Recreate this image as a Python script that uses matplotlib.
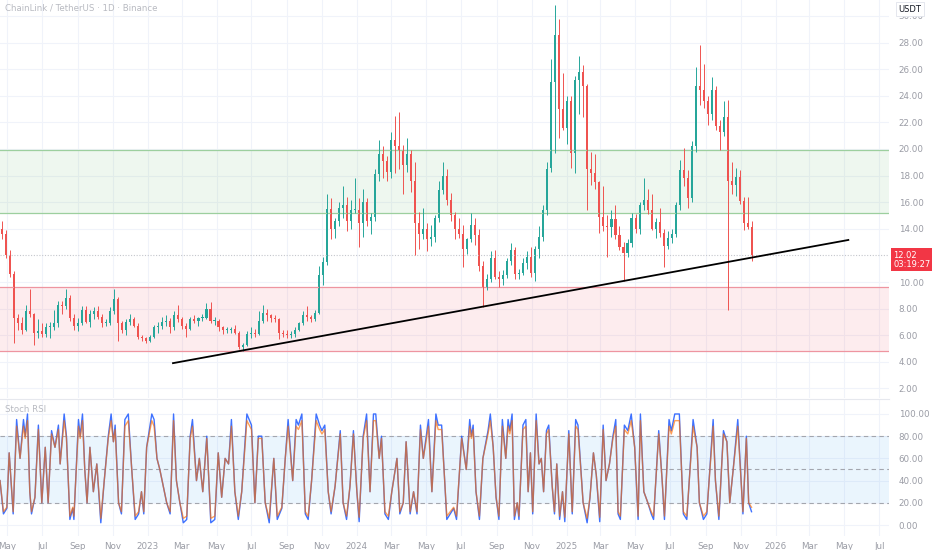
import matplotlib
matplotlib.use('Agg')
import matplotlib.pyplot as plt
import matplotlib.dates as mdates
import pandas as pd

# weekly candles (LINK/USDT), first week starts 2022-04-18
opens = [14.0,13.6,12.0,10.6,7.3,6.9,6.4,7.8,7.6,6.2,
         6.3,6.1,6.6,6.6,6.9,8.3,8.2,8.8,7.3,6.7,
         6.9,7.9,7.0,7.6,7.8,7.4,6.9,6.9,7.8,8.7,
         6.9,6.4,7.0,7.2,6.7,5.9,5.8,5.6,5.9,6.6,
         6.7,7.0,7.1,6.6,7.5,7.2,6.7,6.5,7.2,7.1,
         7.3,7.3,8.0,7.1,7.1,6.6,6.4,6.4,6.5,6.2,
         5.1,5.3,6.1,6.2,6.1,7.1,7.7,7.5,7.3,7.2,
         6.2,6.1,6.0,6.1,6.4,6.9,7.5,7.4,7.2,7.7,
         10.5,11.5,15.5,14.0,14.6,15.6,15.8,14.6,15.4,15.4,
         14.4,16.0,14.6,14.9,18.1,19.6,19.1,18.3,20.7,20.2,
         19.9,18.8,19.6,17.6,14.4,13.6,14.0,13.2,13.4,14.8,
         16.9,18.0,16.2,15.0,14.0,13.6,12.5,13.2,14.3,13.5,
         11.2,9.6,10.2,11.8,10.4,10.2,10.5,11.6,12.4,10.6,
         10.7,11.4,11.9,10.7,12.5,13.4,15.4,18.6,25.0,28.6,
         23.0,21.6,23.6,19.7,25.2,25.8,24.7,18.5,18.2,17.5,
         14.9,14.2,14.1,14.7,13.5,12.6,12.2,12.9,14.8,14.0,
         15.8,16.2,15.4,14.0,14.5,13.7,12.7,13.3,13.6,15.8,
         18.4,17.8,16.3,20.2,24.7,24.4,23.6,22.6,24.4,21.7,
         21.3,22.4,17.6,17.3,17.9,16.1,14.4,14.1]
highs = [14.6,13.9,12.4,10.8,7.6,7.4,8.3,9.5,7.7,7.2,
         6.9,6.9,7.0,7.9,8.6,8.6,9.5,9.0,7.6,7.3,
         8.2,8.2,7.9,8.1,8.2,7.6,7.2,8.1,9.5,8.9,
         7.1,7.2,7.6,7.4,6.9,6.0,5.9,6.0,6.8,7.0,
         7.4,7.5,7.3,7.8,8.3,7.4,6.9,7.4,7.5,7.4,
         7.6,8.4,8.5,7.4,7.2,6.7,6.6,6.6,6.8,6.3,
         5.4,6.3,6.6,6.5,7.8,8.3,8.0,7.6,7.5,7.3,
         6.4,6.4,6.3,6.6,7.0,7.8,8.2,7.5,7.9,11.2,
         11.9,16.6,16.3,14.8,16.0,17.2,16.4,16.2,17.8,16.3,
         17.0,16.3,15.2,18.5,20.7,20.2,19.5,21.3,22.5,22.8,
         20.3,20.8,19.9,19.0,15.3,15.6,14.4,14.3,15.0,17.6,
         19.0,18.5,16.7,15.3,14.8,14.3,13.3,15.2,14.8,14.0,
         11.6,10.6,12.3,12.4,10.8,10.9,11.8,12.9,12.6,11.0,
         11.8,12.3,12.6,12.7,14.2,15.8,19.0,26.8,30.8,29.8,
         25.7,24.0,24.0,25.5,27.0,26.3,24.9,19.8,19.6,17.6,
         17.2,15.0,15.4,15.8,14.2,13.0,13.2,15.2,15.1,16.0,
         17.8,17.0,16.6,14.8,15.6,14.0,13.8,14.0,16.0,19.2,
         20.1,18.4,20.6,26.2,27.8,26.4,24.0,25.4,24.7,22.2,
         23.6,23.7,19.0,18.6,18.4,16.4,16.4,14.6]
lows = [13.2,11.8,10.4,5.4,6.4,6.1,6.3,7.4,5.3,5.8,
        5.9,5.9,5.8,6.4,6.6,7.6,8.0,7.1,6.4,6.3,
        6.8,6.9,6.6,7.2,7.2,6.6,6.7,6.8,7.6,5.6,
        6.2,6.0,6.8,6.6,5.7,5.6,5.4,5.5,5.8,6.2,
        6.5,6.7,6.2,6.4,7.0,6.5,5.9,6.4,6.9,6.7,
        7.1,7.2,6.9,6.8,6.3,6.1,6.2,6.2,6.1,5.0,
        4.8,5.2,5.8,5.9,6.0,6.9,7.1,7.0,7.0,5.7,
        5.9,5.8,5.8,5.9,6.3,6.8,7.1,7.0,7.1,7.6,
        9.8,11.3,13.2,13.3,14.2,14.8,13.8,14.0,15.2,12.6,
        13.4,14.2,13.6,14.6,17.6,17.8,17.6,17.8,18.2,18.5,
        16.6,18.3,16.8,12.0,12.5,13.2,12.3,12.7,13.0,14.5,
        16.6,15.8,14.6,13.2,13.3,11.1,12.1,13.0,12.8,10.8,
        8.1,9.4,10.0,10.2,9.6,9.8,10.3,11.3,10.2,10.2,
        10.5,11.0,10.4,10.1,11.8,13.1,15.0,18.3,19.7,20.8,
        21.4,20.4,18.6,18.2,22.6,22.4,15.4,17.3,17.0,13.7,
        13.8,11.9,13.4,13.2,12.4,10.1,11.9,12.6,13.7,13.6,
        15.4,15.1,13.9,13.3,13.4,11.1,12.5,12.9,13.4,15.4,
        17.2,15.6,16.0,19.8,23.3,23.1,21.8,22.2,21.4,19.9,
        21.0,7.9,16.6,16.5,15.9,13.9,14.0,11.6]
closes = [13.6,12.0,10.6,7.3,6.9,6.4,7.8,7.6,6.2,6.3,
          6.1,6.6,6.6,6.9,8.3,8.2,8.8,7.3,6.7,6.9,
          7.9,7.0,7.6,7.8,7.4,6.9,6.9,7.8,8.7,6.9,
          6.4,7.0,7.2,6.7,5.9,5.8,5.6,5.9,6.6,6.7,
          7.0,7.1,6.6,7.5,7.2,6.7,6.5,7.2,7.1,7.3,
          7.3,8.0,7.1,7.1,6.6,6.4,6.4,6.5,6.2,5.1,
          5.3,6.1,6.2,6.1,7.1,7.7,7.5,7.3,7.2,6.2,
          6.1,6.0,6.1,6.4,6.9,7.5,7.4,7.2,7.7,10.5,
          11.5,15.5,14.0,14.6,15.6,15.8,14.6,15.4,15.4,14.4,
          16.0,14.6,14.9,18.1,19.6,19.1,18.3,20.7,20.2,19.9,
          18.8,19.6,17.6,14.4,13.6,14.0,13.2,13.4,14.8,16.9,
          18.0,16.2,15.0,14.0,13.6,12.5,13.2,14.3,13.5,11.2,
          9.6,10.2,11.8,10.4,10.2,10.5,11.6,12.4,10.6,10.7,
          11.4,11.9,10.7,12.5,13.4,15.4,18.5,25.0,28.6,23.0,
          21.6,23.6,19.7,25.2,25.8,24.7,18.5,18.2,17.5,14.9,
          14.2,14.1,14.7,13.5,12.6,12.2,12.9,14.8,14.0,15.8,
          16.2,15.4,14.0,14.5,13.7,12.7,13.3,13.6,15.8,18.4,
          17.8,16.3,20.2,24.7,24.4,23.6,22.6,24.4,21.7,21.3,
          22.4,17.6,17.3,17.9,16.1,14.4,14.1,12.02]

# Stoch RSI turning points (days after 2022-04-18), K = blue, D = orange
stoch_day = [0,6,12,16,23,29,35,41,44,48,
             52,55,61,67,73,79,84,90,96,102,
             105,112,116,122,127,129,137,140,144,148,
             152,157,163,169,176,182,189,194,198,201,
             207,212,218,224,230,236,242,247,251,256,
             265,269,274,279,285,291,297,303,308,314,
             320,326,332,336,343,348,354,361,368,375,
             381,387,393,399,404,410,416,422,431,439,
             445,451,457,463,470,478,484,492,498,503,
             511,517,521,527,533,538,544,552,558,562,
             567,573,578,585,594,599,605,611,617,623,
             627,634,640,646,652,656,662,666,672,678,
             684,693,698,704,709,716,722,728,734,739,
             748,754,761,765,771,780,786,792,797,806,
             814,820,823,826,831,837,843,852,856,861,
             866,871,877,883,887,890,894,898,903,906,
             913,918,922,926,930,936,941,945,949,954,
             958,964,968,972,977,982,986,993,999,1005,
             1009,1018,1025,1030,1036,1041,1047,1053,1058,1064,
             1070,1075,1079,1083,1090,1096,1102,1108,1114,1118,
             1124,1131,1137,1141,1150,1156,1160,1168,1172,1178,
             1186,1193,1199,1210,1217,1221,1228,1234,1245,1249,
             1255,1263,1269,1274,1280,1288,1297,1303,1307,1312]
stoch_k = [40,10,15,65,10,95,60,95,80,100,
           30,10,25,90,20,70,20,85,70,90,
           55,100,80,5,15,5,95,80,100,50,
           20,70,30,55,2,40,80,100,75,90,
           20,10,95,100,50,5,10,30,10,70,
           100,95,60,50,35,20,10,100,40,20,
           2,5,80,95,40,60,30,80,2,5,
           65,25,60,55,95,30,5,30,100,90,
           20,80,80,20,2,60,5,15,60,95,
           40,95,90,100,10,5,40,100,90,85,
           90,30,10,35,85,20,5,35,85,30,
           3,80,100,30,100,100,60,80,10,5,
           30,60,10,20,75,10,30,10,90,60,
           95,30,100,90,90,5,10,15,5,80,
           50,95,80,90,30,5,60,85,100,70,
           25,5,95,60,95,85,100,5,20,5,
           90,95,30,65,10,100,55,60,30,85,
           90,35,10,55,5,30,3,85,10,95,
           90,20,2,25,65,45,3,90,40,55,
           80,95,10,5,90,85,100,70,5,100,
           30,20,10,5,85,40,5,95,85,100,
           100,10,5,95,70,20,5,10,95,40,
           5,85,75,20,50,95,10,80,20,12]
stoch_d = [40,12,16,65,12,89,60,89,78,94,
           30,12,25,86,20,70,20,82,70,86,
           55,94,78,8,16,8,89,78,94,50,
           20,70,30,55,6,40,78,94,75,86,
           20,12,89,94,50,8,12,30,12,70,
           94,89,60,50,35,20,12,94,40,20,
           6,8,78,89,40,60,30,78,6,8,
           65,25,60,55,89,30,8,30,94,86,
           20,78,78,20,6,60,8,16,60,89,
           40,89,86,94,12,8,40,94,86,82,
           86,30,12,35,82,20,8,35,82,30,
           7,78,94,30,94,94,60,78,12,8,
           30,60,12,20,75,12,30,12,86,60,
           89,30,94,86,86,8,12,16,8,78,
           50,89,78,86,30,8,60,82,94,70,
           25,8,89,60,89,82,94,8,20,8,
           86,89,30,65,12,94,55,60,30,82,
           86,35,12,55,8,30,7,82,12,89,
           86,20,6,25,65,45,7,86,40,55,
           78,89,12,8,86,82,94,70,8,94,
           30,20,12,8,82,40,8,89,82,94,
           94,12,8,89,70,20,8,12,89,40,
           8,82,75,20,50,89,12,78,20,16]

# zones, trendline and last price
green_zone = [15.17, 19.9]
red_zone = [4.81, 9.62]
trend_dates = ['2023-02-14', '2026-05-08']
trend_prices = [3.9, 13.16]
last_price = 12.02
price_ticks = [2, 4, 6, 8, 10, 14, 16, 18, 20, 22, 24, 26, 28, 30]
stoch_ticks = [0, 20, 40, 60, 80, 100]

UP = '#26a69a'
DOWN = '#ef5350'
GRID = '#f0f3fa'
LBL = '#9a9ca5'

start = pd.Timestamp('2022-04-18')
x_candle = pd.date_range(start, periods=len(closes), freq='7D') + pd.Timedelta(hours=84)
colors = [UP if c >= o else DOWN for o, c in zip(opens, closes)]
bottoms = [min(o, c) for o, c in zip(opens, closes)]
heights = [max(abs(c - o), 0.06) for o, c in zip(opens, closes)]
stoch_x = start + pd.to_timedelta(stoch_day, unit='D')

fig = plt.figure(figsize=(9.32, 5.5), dpi=100)
W = 889 / 932
ax1 = fig.add_axes([0, 1 - 398 / 550, W, 398 / 550])
ax2 = fig.add_axes([0, 1 - 536 / 550, W, (536 - 399) / 550])

xmin, xmax = pd.Timestamp('2022-04-18'), pd.Timestamp('2026-07-18')

for ax in (ax1, ax2):
    ax.set_xlim(xmin, xmax)
    for s in ax.spines.values():
        s.set_visible(False)
    ax.xaxis.set_major_locator(mdates.MonthLocator(bymonth=[1, 3, 5, 7, 9, 11]))
    ax.grid(True, color=GRID, lw=0.8)
    ax.set_axisbelow(True)
    ax.yaxis.tick_right()
    ax.tick_params(axis='y', length=0, pad=7, labelsize=6.3, labelcolor=LBL)
    ax.tick_params(axis='x', length=0)

# price pane
ax1.set_ylim(1.28, 31.2)
ax1.set_yticks(price_ticks)
ax1.set_yticklabels(['%.2f' % t for t in price_ticks])
for lbl in ax1.get_yticklabels():
    lbl.set_horizontalalignment('left')
ax1.set_xticklabels([])

ax1.axhspan(green_zone[0], green_zone[1], color='#4caf50', alpha=0.09, lw=0)
for v in green_zone:
    ax1.axhline(v, color='#9ccf9e', lw=0.9)
ax1.axhspan(red_zone[0], red_zone[1], color='#f23645', alpha=0.09, lw=0)
for v in red_zone:
    ax1.axhline(v, color='#ee95a0', lw=0.9)

ax1.axhline(last_price, color='#c4c6cc', lw=0.8, ls=(0, (1, 1.5)))

ax1.vlines(x_candle, lows, highs, colors=colors, lw=0.7)
ax1.bar(x_candle, heights, bottom=bottoms, width=3.6, color=colors, linewidth=0)

ax1.plot(pd.to_datetime(trend_dates), trend_prices, color='black', lw=1.3)

ax1.text(5 / 889, 1 - 8 / 398, 'ChainLink / TetherUS · 1D · Binance',
         transform=ax1.transAxes, fontsize=6.2, color='#b8bac1', va='center')

# stoch rsi pane
ax2.set_ylim(-9.9, 113.5)
ax2.set_yticks(stoch_ticks)
ax2.set_yticklabels(['%.2f' % t for t in stoch_ticks])
for lbl in ax2.get_yticklabels():
    lbl.set_horizontalalignment('left')
ax2.axhspan(20, 80, color='#2196f3', alpha=0.09, lw=0)
for v in (80, 50, 20):
    ax2.axhline(v, color='#a3a6ae', lw=0.8, ls=(0, (4, 3)))
ax2.plot(stoch_x, stoch_k, color='#2962ff', lw=1.0, alpha=0.9)
ax2.plot(stoch_x, stoch_d, color='#ff6d00', lw=1.0, alpha=0.65)
ax2.text(5 / 889, 1 - 10 / 137, 'Stoch RSI', transform=ax2.transAxes,
         fontsize=6.2, color='#b8bac1', va='center')


def fmt(x, pos):
    d = mdates.num2date(x)
    return str(d.year) if d.month == 1 else d.strftime('%b')


ax2.xaxis.set_major_formatter(plt.FuncFormatter(fmt))
ax2.tick_params(axis='x', pad=4, labelsize=6.3, labelcolor=LBL)

# pane separator
fig.add_artist(plt.Line2D([0, W], [1 - 398.5 / 550] * 2, color='#e6e8ee', lw=0.8))

# axis badges
fig.text(910 / 932, 1 - 9 / 550, 'USDT', ha='center', va='center', fontsize=6,
         color='#131722',
         bbox=dict(boxstyle='square,pad=0.35', fc='white', ec='#e0e3eb', lw=0.6))
fig.text(893 / 932, 1 - 260 / 550, '%.2f\n03:19:27' % last_price, ha='left',
         va='center', fontsize=6, color='white', linespacing=1.0,
         bbox=dict(boxstyle='square,pad=0.3', fc='#f23645', ec='none'))

plt.savefig('out.png', dpi=100)
